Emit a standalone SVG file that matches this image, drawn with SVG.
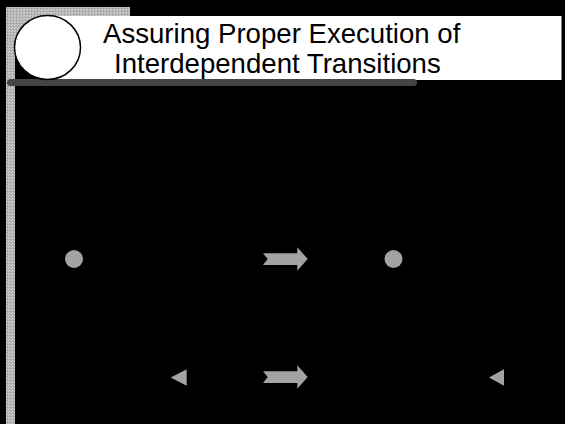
<svg xmlns="http://www.w3.org/2000/svg" width="565" height="424" viewBox="0 0 565 424">
  <defs>
    <pattern id="stipple" width="3" height="3" patternUnits="userSpaceOnUse">
      <rect width="3" height="3" fill="#b4b4b4"/>
      <rect x="0" y="0" width="1" height="1" fill="#d8d8d8"/>
      <rect x="2" y="1" width="1" height="1" fill="#cfcfcf"/>
      <rect x="1" y="2" width="1" height="1" fill="#9c9c9c"/>
    </pattern>
  </defs>
  <style>
    .title { font-family: "Liberation Sans", Arial, sans-serif; font-size: 27.6px; fill: #000; }
    .marker { fill: #a3a3a3; }
  </style>
  <rect x="0" y="0" width="565" height="424" fill="#000"/>
  <g id="frame">
    <rect x="6" y="7" width="124" height="9" fill="url(#stipple)"/>
    <rect x="6" y="7" width="9" height="417" fill="url(#stipple)"/>
    <rect x="6" y="7" width="41.5" height="40.5" fill="url(#stipple)"/>
    <rect x="47.5" y="16" width="514" height="64" fill="#fff"/>
    <rect x="7" y="79" width="410" height="7" rx="3.5" fill="#454545"/>
    <ellipse cx="47.5" cy="47.5" rx="33" ry="32" fill="#fff" stroke="#000" stroke-width="1.5"/>
  </g>
  <g id="title">
    <text class="title" x="103" y="43">Assuring Proper Execution of</text>
    <text class="title" x="114" y="72.5">Interdependent Transitions</text>
  </g>
  <g id="dot1"><circle class="marker" cx="74" cy="259" r="9"/></g>
  <g id="dot2"><circle class="marker" cx="393.5" cy="259" r="9"/></g>
  <g id="tri1"><polygon class="marker" points="186.7,369.3 186.7,385.7 170.7,377.5"/></g>
  <g id="tri2"><polygon class="marker" points="504,369.3 504,385.7 489,377.5"/></g>
  <g id="connectors">
    <path class="marker" d="M263,253.3 L297.3,253.3 L297.3,247.3 L307.7,259 L297.3,270.7 L297.3,265 L263,265 L267.7,259 Z"/>
    <path class="marker" d="M263,371.3 L297.3,371.3 L297.3,365.3 L307.7,377 L297.3,388.7 L297.3,383 L263,383 L267.7,377 Z"/>
  </g>
</svg>
